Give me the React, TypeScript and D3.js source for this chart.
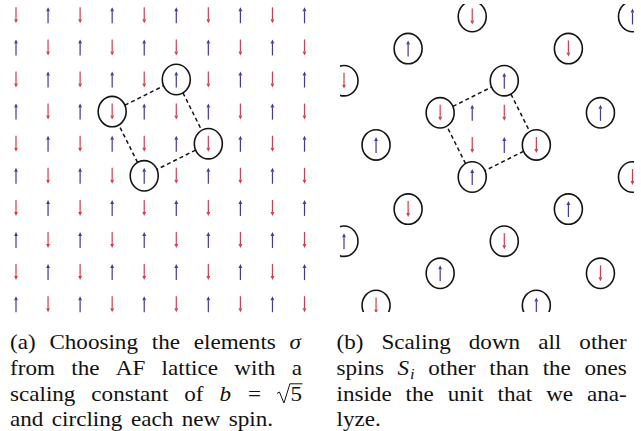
import React from "react";
import * as d3 from "d3";

const W = 641;
const H = 431;

// Antiferromagnetic lattice: U = spin up, D = spin down (row 0 at the top)
const SPIN_ROWS = [
  "DUDUDUDUDU",
  "UDUDUDUDUD",
  "DUDUDUDUDU",
  "UDUDUDUDUD",
  "DUDUDUDUDU",
  "UDUDUDUDUD",
  "DUDUDUDUDU",
  "UDUDUDUDUD",
  "DUDUDUDUDU",
  "UDUDUDUDUD",
];

// Block spins of one sqrt(5) unit cell: [col, row]
const BLOCK_SITES: [number, number][] = [
  [5, 2],
  [3, 3],
  [6, 4],
  [4, 5],
];
// Sides of the unit cell (indices into BLOCK_SITES)
const BLOCK_EDGES: [number, number][] = [
  [1, 0],
  [0, 2],
  [2, 3],
  [3, 1],
];
// All block spins of the rescaled lattice
const RG_SITES: [number, number][] = [
  [4, 0], [9, 0], [2, 1], [7, 1], [0, 2], [5, 2], [3, 3], [8, 3], [1, 4], [6, 4],
  [4, 5], [9, 5], [2, 6], [7, 6], [0, 7], [5, 7], [3, 8], [8, 8], [1, 9], [6, 9],
];
// Decimated spins kept inside the analysed unit
const INNER_SITES: [number, number][] = [
  [4, 3],
  [5, 3],
  [4, 4],
  [5, 4],
];

type Seg = { t: string; it?: boolean; sub?: boolean; sqrt?: boolean };
type Token = Seg[];
const w = (t: string): Token => [{ t }];

const CAPTION_A: Token[][] = [
  [w("(a)"), w("Choosing"), w("the"), w("elements"), [{ t: "σ", it: true }]],
  [w("from"), w("the"), w("AF"), w("lattice"), w("with"), w("a")],
  [w("scaling"), w("constant"), w("of"), [{ t: "b", it: true }], w("="), [{ t: "5", sqrt: true }]],
  [w("and"), w("circling"), w("each"), w("new"), w("spin.")],
];
const CAPTION_B: Token[][] = [
  [w("(b)"), w("Scaling"), w("down"), w("all"), w("other")],
  [w("spins"), [{ t: "S", it: true }, { t: "i", it: true, sub: true }], w("other"), w("than"), w("the"), w("ones")],
  [w("inside"), w("the"), w("unit"), w("that"), w("we"), w("ana-")],
  [w("lyze.")],
];

const FONT_FAMILY = "Liberation Serif";
const FS = 21;
const SUB_FS = 15;
const SX = 1.1; // horizontal widening of the caption glyphs
const RAD_W = 13.5;
const LAST_SPACE = 8.5;

const RED = "#d63a47";
const BLUE = "#3a3aa0";

let measureCtx: CanvasRenderingContext2D | null = null;
function textWidth(s: string, italic: boolean, size: number): number {
  if (!measureCtx) measureCtx = document.createElement("canvas").getContext("2d");
  if (!measureCtx) return s.length * size * 0.5 * SX;
  measureCtx.font = `${italic ? "italic " : ""}${size}px "${FONT_FAMILY}"`;
  return measureCtx.measureText(s).width * SX;
}
function segWidth(s: Seg): number {
  return (s.sqrt ? RAD_W : 0) + textWidth(s.t, !!s.it, s.sub ? SUB_FS : FS) + (s.it && !s.sub ? 1 : 0);
}
function tokenWidth(tok: Token): number {
  return d3.sum(tok, segWidth);
}

function Caption({ lines, x0, x1, baselines }: { lines: Token[][]; x0: number; x1: number; baselines: number[] }) {
  const out: React.ReactNode[] = [];
  lines.forEach((line, li) => {
    const widths = line.map(tokenWidth);
    const last = li === lines.length - 1;
    const gap = last || line.length < 2 ? LAST_SPACE : (x1 - x0 - d3.sum(widths)) / (line.length - 1);
    let x = x0;
    const y = baselines[li];
    line.forEach((tok, ti) => {
      let sx = x;
      tok.forEach((seg, si) => {
        const size = seg.sub ? SUB_FS : FS;
        if (seg.sqrt) {
          const tw = textWidth(seg.t, false, FS);
          out.push(
            <path
              key={`r${li}-${ti}-${si}`}
              d={`M${sx},${y - 7} L${sx + 2.5},${y - 8.5} L${sx + 7},${y + 2.5} L${sx + 13},${y - 16.7} H${sx + RAD_W + tw + 0.5}`}
              fill="none"
              stroke="#111"
              strokeWidth={1}
            />
          );
          sx += RAD_W;
        }
        const ty = seg.sub ? y + 4 : y;
        out.push(
          <text
            key={`t${li}-${ti}-${si}`}
            transform={`translate(${sx},${ty}) scale(${SX},1)`}
            fontFamily={FONT_FAMILY}
            fontSize={size}
            fontStyle={seg.it ? "italic" : "normal"}
            fill="#111"
          >
            {seg.t}
          </text>
        );
        sx += segWidth(seg) - (seg.sqrt ? RAD_W : 0);
      });
      x += widths[ti] + gap;
    });
  });
  return <g>{out}</g>;
}

function Arrow({ x, y, up, len = 16 }: { x: number; y: number; up: boolean; len?: number }) {
  const h = len / 2;
  const tip = up ? y - h : y + h;
  const tail = up ? y + h : y - h;
  const hb = up ? tip + 4 : tip - 4;
  const color = up ? BLUE : RED;
  return (
    <g>
      <line x1={x} y1={tail} x2={x} y2={hb} stroke={color} strokeWidth={1.2} />
      <path d={`M${x},${tip} L${x - 1.9},${hb} L${x + 1.9},${hb} Z`} fill={color} />
    </g>
  );
}

const spinUp = (c: number, r: number) => SPIN_ROWS[r][c] === "U";

export default function App() {
  const idx = d3.range(10);
  // Left panel lattice
  const xL = d3.scaleLinear().domain([0, 9]).range([16, 304.5]);
  const yL = d3.scaleLinear().domain([0, 9]).range([15.3, 304.2]);
  // Right panel lattice (same spacing, shifted)
  const xR = d3.scaleLinear().domain([0, 9]).range([344, 632.5]);
  const yR = d3.scaleLinear().domain([0, 9]).range([16.5, 305.4]);

  const RX = 14;
  const RY = 15.2;

  const edgeLine = (
    xs: d3.ScaleLinear<number, number>,
    ys: d3.ScaleLinear<number, number>,
    a: [number, number],
    b: [number, number]
  ) => {
    const ax = xs(a[0]), ay = ys(a[1]), bx = xs(b[0]), by = ys(b[1]);
    const dx = bx - ax, dy = by - ay;
    const L = Math.hypot(dx, dy);
    const ux = dx / L, uy = dy / L;
    // trim to the ellipse boundary
    const t = 1 / Math.sqrt((ux * ux) / (RX * RX) + (uy * uy) / (RY * RY));
    return { x1: ax + ux * t, y1: ay + uy * t, x2: bx - ux * t, y2: by - uy * t };
  };

  const circleStyle = { fill: "none", stroke: "#141414", strokeWidth: 1.6 };
  const dashStyle = { stroke: "#141414", strokeWidth: 1.5, strokeDasharray: "4 3" };
  const baselines = [348.7, 374.6, 400.5, 426.3];

  return (
    <svg width={W} height={H} style={{ position: "absolute", left: 0, top: 0, background: "#fff" }}>
      <rect width={W} height={H} fill="#fff" />
      <defs>
        <clipPath id="rightPanel">
          <rect x={340} y={4} width={294} height={308} />
        </clipPath>
      </defs>

      {/* (a) full AF lattice with the chosen block spins */}
      <g>
        {idx.map((r) =>
          idx.map((c) => <Arrow key={`a${r}-${c}`} x={xL(c)} y={yL(r)} up={spinUp(c, r)} />)
        )}
        {BLOCK_EDGES.map(([i, j], k) => {
          const l = edgeLine(xL, yL, BLOCK_SITES[i], BLOCK_SITES[j]);
          return <line key={`ae${k}`} {...l} {...dashStyle} />;
        })}
        {BLOCK_SITES.map(([c, r], k) => (
          <ellipse key={`ac${k}`} cx={xL(c)} cy={yL(r)} rx={RX} ry={RY} {...circleStyle} />
        ))}
      </g>

      {/* (b) rescaled lattice */}
      <g clipPath="url(#rightPanel)">
        {RG_SITES.map(([c, r], k) => (
          <g key={`bs${k}`}>
            <Arrow x={xR(c)} y={yR(r)} up={spinUp(c, r)} />
            <ellipse cx={xR(c)} cy={yR(r)} rx={RX} ry={RY} {...circleStyle} />
          </g>
        ))}
        {INNER_SITES.map(([c, r], k) => (
          <Arrow key={`bi${k}`} x={xR(c)} y={yR(r)} up={spinUp(c, r)} />
        ))}
        {BLOCK_EDGES.map(([i, j], k) => {
          const l = edgeLine(xR, yR, BLOCK_SITES[i], BLOCK_SITES[j]);
          return <line key={`be${k}`} {...l} {...dashStyle} />;
        })}
      </g>

      <Caption lines={CAPTION_A} x0={10} x1={302} baselines={baselines} />
      <Caption lines={CAPTION_B} x0={336.5} x1={626.8} baselines={baselines} />
    </svg>
  );
}
